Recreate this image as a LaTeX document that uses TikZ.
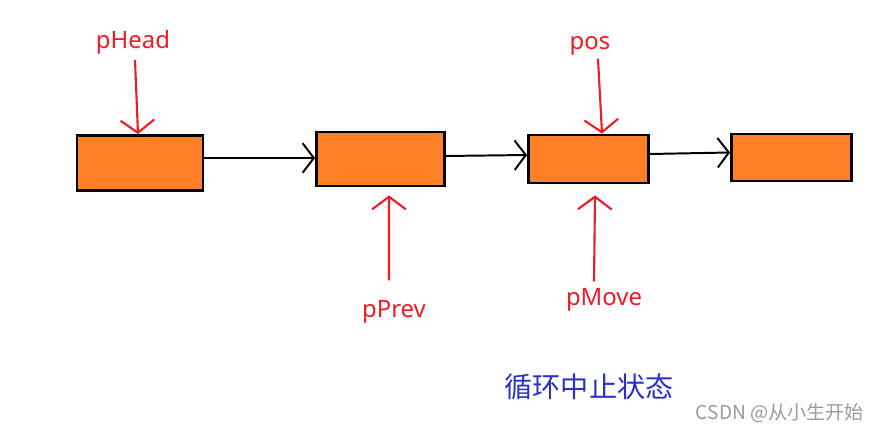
\documentclass[tikz,border=0pt]{standalone}
\usepackage{fontspec}
\setmainfont{Noto Sans}
\newfontfamily\cjk{Noto Sans CJK SC}
\usetikzlibrary{arrows.meta,calc}
\definecolor{cnode}{RGB}{255,127,39}
\definecolor{cptr}{RGB}{237,28,36}
\definecolor{cnote}{RGB}{40,50,200}
\definecolor{cmark}{RGB}{155,155,155}

\begin{document}
\begin{tikzpicture}[x=0.025cm, y=-0.025cm,
  box/.style={draw=black, fill=cnode, line width=2pt, inner sep=0pt},
  ptrname/.style={text=cptr, inner sep=0pt, font=\fontsize{17}{20}\selectfont},
  ptr/.style={-{Straight Barb[length=9pt,width=24pt]}, draw=cptr, line width=1.5pt},
  link/.style={-{Straight Barb[length=8pt,width=21pt]}, draw=black, line width=1.4pt}]
\useasboundingbox[fill=white] (0,0) rectangle (881,431);
% list nodes
\node[box, minimum width=3.15cm, minimum height=1.375cm] (b1) at (140,163)   {};
\node[box, minimum width=3.2cm,  minimum height=1.35cm]  (b2) at (380.5,159) {};
\node[box, minimum width=3.0cm,  minimum height=1.2cm]   (b3) at (588.5,159) {};
\node[box, minimum width=3.0cm,  minimum height=1.175cm] (b4) at (791.5,157.5) {};
\draw[link] ($(b1.east)+(0,-5)$) -- ($(b2.west)+(0,-1)$);
\draw[link] ($(b2.east)+(0,-3)$) -- ($(b3.west)+(0,-4)$);
\draw[link] ($(b3.east)+(0,-5)$) -- ($(b4.west)+(0,-5)$);
% pointers
\node[ptrname] (phead) at (133,42)  {pHead};
\node[ptrname] (pprev) at (394,312) {pPrev};
\node[ptrname] (pos)   at (590,46)  {pos};
\node[ptrname] (pmove) at (604,300) {pMove};
\draw[ptr] ($(phead.south)+(2,6)$)  -- ($(b1.north)+(-2,0)$);
\draw[ptr] ($(pprev.north)+(-5,-20)$) -- ($(b2.south)+(8.5,8)$);
\draw[ptr] ($(pos.south)+(8,3)$)    -- ($(b3.north)+(13.5,0)$);
\draw[ptr] ($(pmove.north)+(-10,-7)$) -- ($(b3.south)+(6.5,11)$);
% caption
\node[text=cnote, font=\cjk\fontsize{20}{24}\selectfont] (note) at (589,387) {循环中止状态};
\node[text=cmark, font=\cjk\fontsize{13.6}{16}\selectfont] (mark) at (780,413) {CSDN @从小生开始};
\end{tikzpicture}
\end{document}
